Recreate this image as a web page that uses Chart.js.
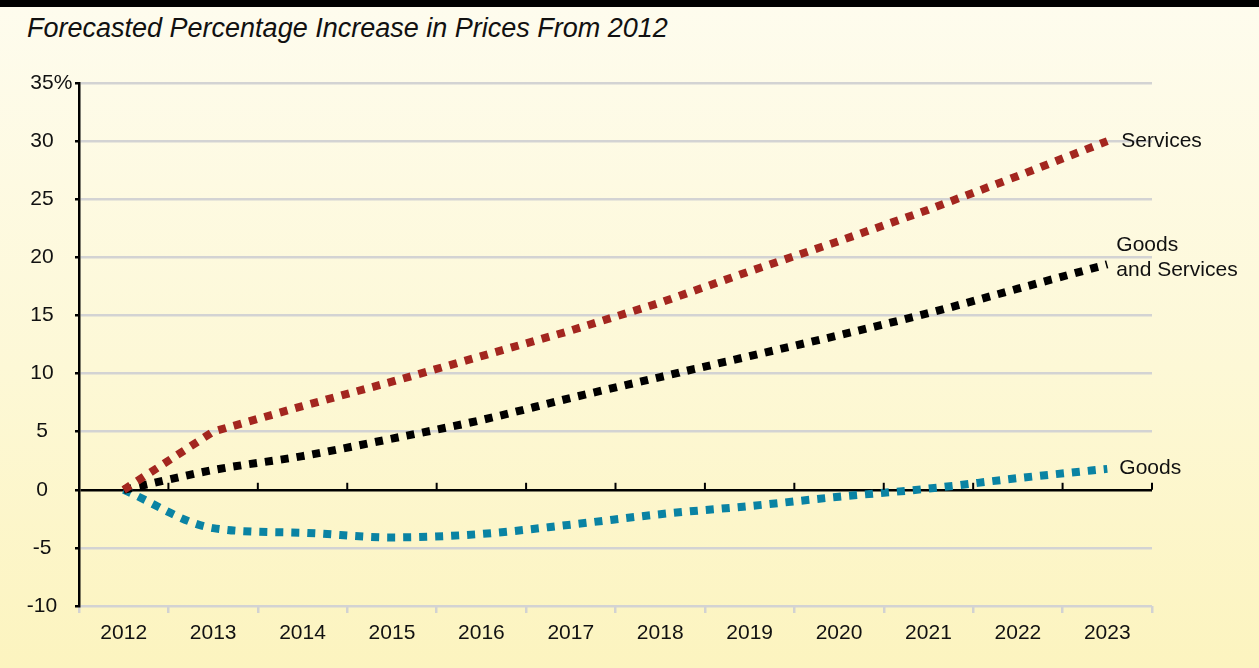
<!DOCTYPE html>
<html>
<head>
<meta charset="utf-8">
<script src="https://cdn.jsdelivr.net/npm/chart.js@4/dist/chart.umd.min.js"></script>
<style>
  html, body { margin: 0; padding: 0; }
  body {
    width: 1259px; height: 668px; overflow: hidden; position: relative;
    background: linear-gradient(to bottom, #fefcee 0%, #fdf8d6 55%, #fcf4bf 100%);
    font-family: "Liberation Sans", Arial, sans-serif;
  }
  #topbar { position: absolute; left: 0; top: 0; width: 1259px; height: 7px; background: #000; }
  #title {
    position: absolute; left: 27px; top: 13px;
    font-size: 27px; font-style: italic; color: #111;
  }
  #wrap { position: absolute; left: 0; top: 0; width: 1259px; height: 668px; }
</style>
</head>
<body>
<div id="topbar"></div>
<div id="title">Forecasted Percentage Increase in Prices From 2012</div>
<div id="wrap"><canvas id="chart"></canvas></div>
<script>
// Data
const years = ['2012', '2013', '2014', '2015', '2016', '2017', '2018', '2019', '2020', '2021', '2022', '2023'];
const services = [0, 5, 7.2, 9.3, 11.5, 13.7, 16.1, 18.8, 21.4, 24.1, 27.0, 30];
const goodsAndServices = [0, 1.7, 2.9, 4.4, 6.0, 7.9, 9.7, 11.5, 13.3, 15.2, 17.3, 19.4];
const goods = [0, -3.3, -3.7, -4.1, -3.8, -3.0, -2.1, -1.4, -0.6, 0.1, 1.0, 1.8];
const yTicks = [-10, -5, 0, 5, 10, 15, 20, 25, 30, 35];

const seriesLabels = [
    { lines: ['Services'], dx: 14, dy: 0 },
    { lines: ['Goods', 'and Services'], dx: 9, dy: -19 },
    { lines: ['Goods'], dx: 12, dy: -1 }
];

const FONT = '"Liberation Sans", Arial, sans-serif';

// Draws y labels, zero line tick marks and end-of-line labels
const decorPlugin = {
    id: 'decor',
    afterDatasetsDraw(chart) {
        const ctx = chart.ctx;
        const x = chart.scales.x;
        const y = chart.scales.y;
        const y0 = y.getPixelForValue(0);
        const step = x.getPixelForValue(1) - x.getPixelForValue(0);

        ctx.save();
        ctx.strokeStyle = '#000';
        ctx.lineWidth = 2;
        for (let i = 0; i < years.length; i++) {
            const px = x.getPixelForValue(i) + step / 2;
            ctx.beginPath();
            ctx.moveTo(px, y0);
            ctx.lineTo(px, y0 - 7);
            ctx.stroke();
        }

        ctx.fillStyle = '#111';
        ctx.font = '21px ' + FONT;
        ctx.textBaseline = 'middle';

        // y tick labels, centred in the gutter
        yTicks.forEach(v => {
            const py = y.getPixelForValue(v);
            const t = String(v);
            ctx.textAlign = 'center';
            ctx.fillText(t, 42, py);
            if (v === 35) {
                ctx.textAlign = 'left';
                ctx.fillText('%', 42 + ctx.measureText(t).width / 2, py);
            }
        });

        ctx.textAlign = 'left';
        chart.data.datasets.forEach((ds, i) => {
            const last = ds.data.length - 1;
            const px = x.getPixelForValue(last);
            const py = y.getPixelForValue(ds.data[last]);
            const lab = seriesLabels[i];
            lab.lines.forEach((t, j) => {
                ctx.fillText(t, px + lab.dx, py + lab.dy + j * 25);
            });
        });
        ctx.restore();
    }
};

const dash = [8, 8];

new Chart(document.getElementById('chart'), {
    type: 'line',
    data: {
        labels: years,
        datasets: [
            {
                label: 'Services',
                data: services,
                borderColor: '#a3261f',
                borderWidth: 8,
                borderDash: dash,
                tension: 0,
                pointRadius: 0
            },
            {
                label: 'Goods and Services',
                data: goodsAndServices,
                borderColor: '#000000',
                borderWidth: 8,
                borderDash: dash,
                cubicInterpolationMode: 'monotone',
                pointRadius: 0
            },
            {
                label: 'Goods',
                data: goods,
                borderColor: '#0a83a3',
                borderWidth: 8,
                borderDash: dash,
                cubicInterpolationMode: 'monotone',
                pointRadius: 0
            }
        ]
    },
    options: {
        responsive: true,
        maintainAspectRatio: false,
        animation: false,
        layout: {
            padding: { top: 83, right: 107, left: 0, bottom: 0 }
        },
        plugins: {
            legend: { display: false },
            tooltip: { enabled: false }
        },
        scales: {
            x: {
                offset: true,
                grid: {
                    offset: true,
                    drawOnChartArea: false,
                    color: '#d2d2d2',
                    lineWidth: 2.5,
                    tickLength: 7
                },
                border: { display: false },
                ticks: {
                    color: '#111',
                    padding: 8,
                    font: { family: FONT, size: 21 }
                },
                afterFit(scale) { scale.height = 62; }
            },
            y: {
                min: -10,
                max: 35,
                afterBuildTicks(scale) {
                    scale.ticks = yTicks.map(v => ({ value: v }));
                },
                grid: {
                    color: c => c.tick && c.tick.value === 0 ? '#000' : '#d3d3d3',
                    lineWidth: 2.5,
                    tickColor: '#000',
                    tickLength: 4
                },
                border: { color: '#000', width: 2.5 },
                ticks: { display: false },
                afterFit(scale) { scale.width = 79; }
            }
        }
    },
    plugins: [decorPlugin]
});
</script>
</body>
</html>
